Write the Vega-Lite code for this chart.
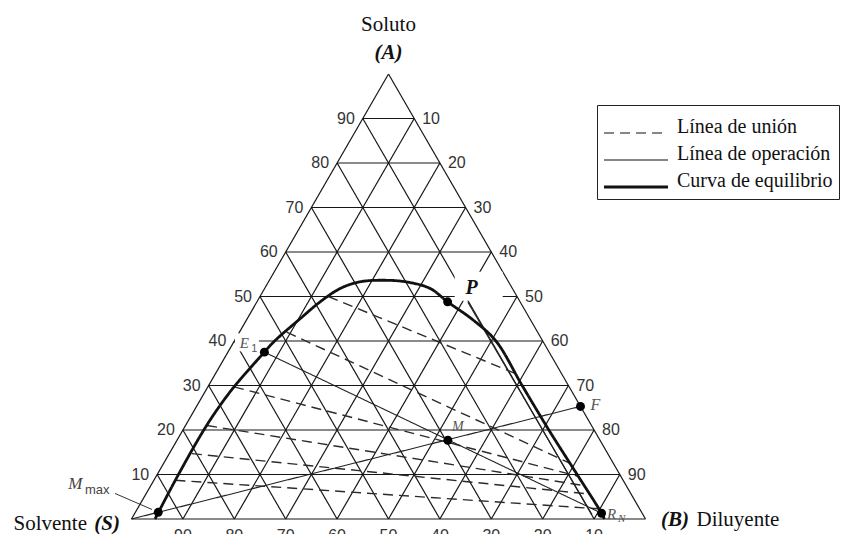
{
  "$schema": "https://vega.github.io/schema/vega-lite/v6.json",
  "background": "white",
  "width": 514,
  "height": 445,
  "autosize": {"type": "none"},
  "padding": {"left": 131.5, "top": 74, "right": 203.5, "bottom": 15},
  "config": {"view": {"stroke": null}},
  "datasets": {
    "rejilla": [
      {"A1": 0, "B1": 0, "A2": 0, "B2": 100},
      {"A1": 0, "B1": 0, "A2": 100, "B2": 0},
      {"A1": 0, "B1": 100, "A2": 100, "B2": 0},
      {"A1": 10, "B1": 0, "A2": 10, "B2": 90},
      {"A1": 20, "B1": 0, "A2": 20, "B2": 80},
      {"A1": 30, "B1": 0, "A2": 30, "B2": 70},
      {"A1": 40, "B1": 0, "A2": 40, "B2": 60},
      {"A1": 50, "B1": 0, "A2": 50, "B2": 50},
      {"A1": 60, "B1": 0, "A2": 60, "B2": 40},
      {"A1": 70, "B1": 0, "A2": 70, "B2": 30},
      {"A1": 80, "B1": 0, "A2": 80, "B2": 20},
      {"A1": 90, "B1": 0, "A2": 90, "B2": 10},
      {"A1": 0, "B1": 10, "A2": 90, "B2": 10},
      {"A1": 0, "B1": 20, "A2": 80, "B2": 20},
      {"A1": 0, "B1": 30, "A2": 70, "B2": 30},
      {"A1": 0, "B1": 40, "A2": 60, "B2": 40},
      {"A1": 0, "B1": 50, "A2": 50, "B2": 50},
      {"A1": 0, "B1": 60, "A2": 40, "B2": 60},
      {"A1": 0, "B1": 70, "A2": 30, "B2": 70},
      {"A1": 0, "B1": 80, "A2": 20, "B2": 80},
      {"A1": 0, "B1": 90, "A2": 10, "B2": 90},
      {"A1": 0, "B1": 90, "A2": 90, "B2": 0},
      {"A1": 0, "B1": 80, "A2": 80, "B2": 0},
      {"A1": 0, "B1": 70, "A2": 70, "B2": 0},
      {"A1": 0, "B1": 60, "A2": 60, "B2": 0},
      {"A1": 0, "B1": 50, "A2": 50, "B2": 0},
      {"A1": 0, "B1": 40, "A2": 40, "B2": 0},
      {"A1": 0, "B1": 30, "A2": 30, "B2": 0},
      {"A1": 0, "B1": 20, "A2": 20, "B2": 0},
      {"A1": 0, "B1": 10, "A2": 10, "B2": 0}
    ],
    "mascaras": [
      {"etiqueta": "P", "A": 52.3, "B": 41.4},
      {"etiqueta": "E1", "A": 39.7, "B": 2.6}
    ],
    "curva": [
      {"A": 0, "B": 4.57, "tipo": "Curva de equilibrio"},
      {"A": 9.4, "B": 4.15, "tipo": "Curva de equilibrio"},
      {"A": 19.7, "B": 4.06, "tipo": "Curva de equilibrio"},
      {"A": 24.9, "B": 4.4, "tipo": "Curva de equilibrio"},
      {"A": 29.7, "B": 5.1, "tipo": "Curva de equilibrio"},
      {"A": 37.5, "B": 7.1, "tipo": "Curva de equilibrio"},
      {"A": 39.9, "B": 7.8, "tipo": "Curva de equilibrio"},
      {"A": 45, "B": 10.3, "tipo": "Curva de equilibrio"},
      {"A": 48.8, "B": 12.3, "tipo": "Curva de equilibrio"},
      {"A": 51.8, "B": 14.7, "tipo": "Curva de equilibrio"},
      {"A": 53.3, "B": 17.8, "tipo": "Curva de equilibrio"},
      {"A": 53.65, "B": 22.2, "tipo": "Curva de equilibrio"},
      {"A": 53.27, "B": 26.9, "tipo": "Curva de equilibrio"},
      {"A": 51.8, "B": 32.2, "tipo": "Curva de equilibrio"},
      {"A": 48.8, "B": 37.1, "tipo": "Curva de equilibrio"},
      {"A": 44.66, "B": 44.2, "tipo": "Curva de equilibrio"},
      {"A": 40, "B": 50.9, "tipo": "Curva de equilibrio"},
      {"A": 30, "B": 61.0, "tipo": "Curva de equilibrio"},
      {"A": 20, "B": 71.2, "tipo": "Curva de equilibrio"},
      {"A": 10, "B": 81.7, "tipo": "Curva de equilibrio"},
      {"A": 1.3, "B": 90.8, "tipo": "Curva de equilibrio"},
      {"A": 0, "B": 92, "tipo": "Curva de equilibrio"}
    ],
    "union": [
      {"A1": 50, "B1": 13.3, "A2": 32.7, "B2": 58.3, "tipo": "Línea de unión"},
      {"A1": 42, "B1": 9.2, "A2": 12.5, "B2": 79.1, "tipo": "Línea de unión"},
      {"A1": 29.7, "B1": 5.1, "A2": 9.6, "B2": 82.1, "tipo": "Línea de unión"},
      {"A1": 21, "B1": 4.2, "A2": 7.5, "B2": 84.3, "tipo": "Línea de unión"},
      {"A1": 14.7, "B1": 4.4, "A2": 5.6, "B2": 86.2, "tipo": "Línea de unión"},
      {"A1": 8.7, "B1": 4.2, "A2": 2.3, "B2": 89.6, "tipo": "Línea de unión"}
    ],
    "operacion": [
      {"A1": 0, "B1": 0, "A2": 25.3, "B2": 74.7, "tipo": "Línea de operación"},
      {"A1": 37.5, "B1": 7.1, "A2": 1.3, "B2": 90.8, "tipo": "Línea de operación"},
      {"A1": 48.7, "B1": 41.1, "A2": 1.0, "B2": 89.1, "tipo": "Línea de operación"}
    ],
    "referencia": [
      {"A1": 5.74, "B1": -6.08, "A2": 2.14, "B2": 2.92}
    ],
    "puntos": [
      {"nombre": "Mmax", "A": 1.5, "B": 4.45},
      {"nombre": "E1", "A": 37.5, "B": 7.1},
      {"nombre": "P", "A": 48.8, "B": 37.1},
      {"nombre": "M", "A": 17.7, "B": 52.7},
      {"nombre": "F", "A": 25.3, "B": 74.7},
      {"nombre": "RN", "A": 1.3, "B": 90.8}
    ],
    "vertices": [
      {"v": "A", "A": 100, "B": 0},
      {"v": "S", "A": 0, "B": 0},
      {"v": "B", "A": 0, "B": 100}
    ],
    "escala_A": [
      {"A": 10, "B": 0, "valor": "10"}, {"A": 20, "B": 0, "valor": "20"},
      {"A": 30, "B": 0, "valor": "30"}, {"A": 40, "B": 0, "valor": "40"},
      {"A": 50, "B": 0, "valor": "50"}, {"A": 60, "B": 0, "valor": "60"},
      {"A": 70, "B": 0, "valor": "70"}, {"A": 80, "B": 0, "valor": "80"},
      {"A": 90, "B": 0, "valor": "90"}
    ],
    "escala_B": [
      {"A": 90, "B": 10, "valor": "10"}, {"A": 80, "B": 20, "valor": "20"},
      {"A": 70, "B": 30, "valor": "30"}, {"A": 60, "B": 40, "valor": "40"},
      {"A": 50, "B": 50, "valor": "50"}, {"A": 40, "B": 60, "valor": "60"},
      {"A": 30, "B": 70, "valor": "70"}, {"A": 20, "B": 80, "valor": "80"},
      {"A": 10, "B": 90, "valor": "90"}
    ],
    "escala_S": [
      {"A": 0, "B": 10, "valor": "90"}, {"A": 0, "B": 20, "valor": "80"},
      {"A": 0, "B": 30, "valor": "70"}, {"A": 0, "B": 40, "valor": "60"},
      {"A": 0, "B": 50, "valor": "50"}, {"A": 0, "B": 60, "valor": "40"},
      {"A": 0, "B": 70, "valor": "30"}, {"A": 0, "B": 80, "valor": "20"},
      {"A": 0, "B": 90, "valor": "10"}
    ]
  },
  "layer": [
    {
      "data": {"name": "rejilla"},
      "transform": [
        {"calculate": "datum.B1 + datum.A1 / 2", "as": "x1"},
        {"calculate": "datum.B2 + datum.A2 / 2", "as": "x2"}
      ],
      "mark": {"type": "rule", "color": "#161616", "strokeWidth": 1.2},
      "encoding": {
        "x": {"field": "x1", "type": "quantitative", "scale": {"domain": [0, 100], "nice": false, "zero": false}, "axis": null},
        "x2": {"field": "x2"},
        "y": {"field": "A1", "type": "quantitative", "scale": {"domain": [0, 100], "nice": false, "zero": false}, "axis": null},
        "y2": {"field": "A2"}
      }
    },
    {
      "data": {"name": "mascaras"},
      "transform": [
        {"calculate": "datum.B + datum.A / 2", "as": "x"},
        {"filter": "datum.etiqueta === 'P'"}
      ],
      "mark": {"type": "point", "shape": "M-1,-0.6H1V0.6H-1Z", "size": 2304, "filled": true, "color": "white", "opacity": 1},
      "encoding": {
        "x": {"field": "x", "type": "quantitative", "axis": null},
        "y": {"field": "A", "type": "quantitative", "axis": null}
      }
    },
    {
      "data": {"name": "mascaras"},
      "transform": [
        {"calculate": "datum.B + datum.A / 2", "as": "x"},
        {"filter": "datum.etiqueta === 'E1'"}
      ],
      "mark": {"type": "point", "shape": "M-1,-0.75H1V0.75H-1Z", "size": 576, "filled": true, "color": "white", "opacity": 1},
      "encoding": {
        "x": {"field": "x", "type": "quantitative", "axis": null},
        "y": {"field": "A", "type": "quantitative", "axis": null}
      }
    },
    {
      "data": {"name": "union"},
      "transform": [
        {"calculate": "datum.B1 + datum.A1 / 2", "as": "x1"},
        {"calculate": "datum.B2 + datum.A2 / 2", "as": "x2"}
      ],
      "mark": {"type": "rule", "color": "#2b2b2b", "strokeWidth": 1.4},
      "encoding": {
        "x": {"field": "x1", "type": "quantitative", "axis": null},
        "x2": {"field": "x2"},
        "y": {"field": "A1", "type": "quantitative", "axis": null},
        "y2": {"field": "A2"},
        "strokeDash": {
          "field": "tipo", "type": "nominal",
          "scale": {"domain": ["Línea de unión", "Línea de operación", "Curva de equilibrio"], "range": [[10, 6], [1, 0], [1, 0]]},
          "legend": {
            "title": "\u00a0", "titleFontSize": 4, "titlePadding": 8,
            "orient": "none", "legendX": 465.5, "legendY": 31,
            "padding": 6, "rowPadding": 7, "labelOffset": 31, "symbolOffset": 23,
            "labelFont": "Liberation Serif", "labelFontSize": 20, "labelColor": "#111111",
            "labelLimit": 300, "labelBaseline": "alphabetic",
            "symbolType": "stroke", "symbolSize": 4096, "symbolStrokeColor": "#111111",
            "strokeColor": "#222222", "fillColor": "white",
            "encode": {"symbols": {"update": {"strokeWidth": {"signal": "datum.value === 'Curva de equilibrio' ? 3 : 1.2"}}}}
          }
        }
      }
    },
    {
      "data": {"name": "operacion"},
      "transform": [
        {"calculate": "datum.B1 + datum.A1 / 2", "as": "x1"},
        {"calculate": "datum.B2 + datum.A2 / 2", "as": "x2"}
      ],
      "mark": {"type": "rule", "color": "#222222", "strokeWidth": 1.1},
      "encoding": {
        "x": {"field": "x1", "type": "quantitative", "axis": null},
        "x2": {"field": "x2"},
        "y": {"field": "A1", "type": "quantitative", "axis": null},
        "y2": {"field": "A2"},
        "strokeDash": {
          "field": "tipo", "type": "nominal",
          "scale": {"domain": ["Línea de unión", "Línea de operación", "Curva de equilibrio"], "range": [[10, 6], [1, 0], [1, 0]]}
        }
      }
    },
    {
      "data": {"name": "curva"},
      "transform": [{"calculate": "datum.B + datum.A / 2", "as": "x"}],
      "mark": {"type": "line", "interpolate": "catmull-rom", "color": "#111111", "strokeWidth": 2.8},
      "encoding": {
        "x": {"field": "x", "type": "quantitative", "axis": null},
        "y": {"field": "A", "type": "quantitative", "axis": null},
        "strokeDash": {
          "field": "tipo", "type": "nominal",
          "scale": {"domain": ["Línea de unión", "Línea de operación", "Curva de equilibrio"], "range": [[10, 6], [1, 0], [1, 0]]}
        }
      }
    },
    {
      "data": {"name": "referencia"},
      "transform": [
        {"calculate": "datum.B1 + datum.A1 / 2", "as": "x1"},
        {"calculate": "datum.B2 + datum.A2 / 2", "as": "x2"}
      ],
      "mark": {"type": "rule", "color": "#333333", "strokeWidth": 1},
      "encoding": {
        "x": {"field": "x1", "type": "quantitative", "axis": null},
        "x2": {"field": "x2"},
        "y": {"field": "A1", "type": "quantitative", "axis": null},
        "y2": {"field": "A2"}
      }
    },
    {
      "data": {"name": "puntos"},
      "transform": [{"calculate": "datum.B + datum.A / 2", "as": "x"}],
      "mark": {"type": "circle", "size": 80, "color": "#000000", "opacity": 1},
      "encoding": {
        "x": {"field": "x", "type": "quantitative", "axis": null},
        "y": {"field": "A", "type": "quantitative", "axis": null}
      }
    },
    {
      "data": {"name": "puntos"},
      "transform": [{"calculate": "datum.B + datum.A / 2", "as": "x"}, {"filter": "datum.nombre === 'P'"}],
      "mark": {"type": "text", "text": "P", "font": "Liberation Serif", "fontSize": 20, "fontStyle": "italic", "fontWeight": "bold", "color": "#111111", "dx": 24, "dy": -14, "baseline": "middle"},
      "encoding": {"x": {"field": "x", "type": "quantitative", "axis": null}, "y": {"field": "A", "type": "quantitative", "axis": null}}
    },
    {
      "data": {"name": "puntos"},
      "transform": [{"calculate": "datum.B + datum.A / 2", "as": "x"}, {"filter": "datum.nombre === 'M'"}],
      "mark": {"type": "text", "text": "M", "font": "Liberation Serif", "fontSize": 14, "fontStyle": "italic", "color": "#555555", "dx": 10, "dy": -13, "baseline": "middle"},
      "encoding": {"x": {"field": "x", "type": "quantitative", "axis": null}, "y": {"field": "A", "type": "quantitative", "axis": null}}
    },
    {
      "data": {"name": "puntos"},
      "transform": [{"calculate": "datum.B + datum.A / 2", "as": "x"}, {"filter": "datum.nombre === 'F'"}],
      "mark": {"type": "text", "text": "F", "font": "Liberation Serif", "fontSize": 16, "fontStyle": "italic", "color": "#555555", "dx": 15, "dy": -1, "baseline": "middle"},
      "encoding": {"x": {"field": "x", "type": "quantitative", "axis": null}, "y": {"field": "A", "type": "quantitative", "axis": null}}
    },
    {
      "data": {"name": "puntos"},
      "transform": [{"calculate": "datum.B + datum.A / 2", "as": "x"}, {"filter": "datum.nombre === 'E1'"}],
      "mark": {"type": "text", "text": "E", "font": "Liberation Serif", "fontSize": 15, "fontStyle": "italic", "color": "#555555", "dx": -20, "dy": -9, "baseline": "middle"},
      "encoding": {"x": {"field": "x", "type": "quantitative", "axis": null}, "y": {"field": "A", "type": "quantitative", "axis": null}}
    },
    {
      "data": {"name": "puntos"},
      "transform": [{"calculate": "datum.B + datum.A / 2", "as": "x"}, {"filter": "datum.nombre === 'E1'"}],
      "mark": {"type": "text", "text": "1", "font": "Liberation Sans", "fontSize": 11, "color": "#555555", "dx": -10, "dy": -3, "baseline": "middle"},
      "encoding": {"x": {"field": "x", "type": "quantitative", "axis": null}, "y": {"field": "A", "type": "quantitative", "axis": null}}
    },
    {
      "data": {"name": "puntos"},
      "transform": [{"calculate": "datum.B + datum.A / 2", "as": "x"}, {"filter": "datum.nombre === 'RN'"}],
      "mark": {"type": "text", "text": "R", "font": "Liberation Serif", "fontSize": 15, "fontStyle": "italic", "color": "#555555", "dx": 10, "dy": 1, "baseline": "middle"},
      "encoding": {"x": {"field": "x", "type": "quantitative", "axis": null}, "y": {"field": "A", "type": "quantitative", "axis": null}}
    },
    {
      "data": {"name": "puntos"},
      "transform": [{"calculate": "datum.B + datum.A / 2", "as": "x"}, {"filter": "datum.nombre === 'RN'"}],
      "mark": {"type": "text", "text": "N", "font": "Liberation Serif", "fontSize": 11, "fontStyle": "italic", "color": "#555555", "dx": 20, "dy": 6, "baseline": "middle"},
      "encoding": {"x": {"field": "x", "type": "quantitative", "axis": null}, "y": {"field": "A", "type": "quantitative", "axis": null}}
    },
    {
      "data": {"name": "puntos"},
      "transform": [{"calculate": "datum.B + datum.A / 2", "as": "x"}, {"filter": "datum.nombre === 'Mmax'"}],
      "mark": {"type": "text", "text": "M", "font": "Liberation Serif", "fontSize": 17, "fontStyle": "italic", "color": "#444444", "dx": -83, "dy": -28, "baseline": "middle"},
      "encoding": {"x": {"field": "x", "type": "quantitative", "axis": null}, "y": {"field": "A", "type": "quantitative", "axis": null}}
    },
    {
      "data": {"name": "puntos"},
      "transform": [{"calculate": "datum.B + datum.A / 2", "as": "x"}, {"filter": "datum.nombre === 'Mmax'"}],
      "mark": {"type": "text", "text": "max", "font": "Liberation Sans", "fontSize": 13, "color": "#444444", "dx": -61, "dy": -22, "baseline": "middle"},
      "encoding": {"x": {"field": "x", "type": "quantitative", "axis": null}, "y": {"field": "A", "type": "quantitative", "axis": null}}
    },
    {
      "data": {"name": "escala_A"},
      "transform": [{"calculate": "datum.B + datum.A / 2", "as": "x"}],
      "mark": {"type": "text", "font": "Liberation Sans", "fontSize": 16, "color": "#333333", "align": "right", "baseline": "middle", "dx": -8},
      "encoding": {"x": {"field": "x", "type": "quantitative", "axis": null}, "y": {"field": "A", "type": "quantitative", "axis": null}, "text": {"field": "valor"}}
    },
    {
      "data": {"name": "escala_B"},
      "transform": [{"calculate": "datum.B + datum.A / 2", "as": "x"}],
      "mark": {"type": "text", "font": "Liberation Sans", "fontSize": 16, "color": "#333333", "align": "left", "baseline": "middle", "dx": 8},
      "encoding": {"x": {"field": "x", "type": "quantitative", "axis": null}, "y": {"field": "A", "type": "quantitative", "axis": null}, "text": {"field": "valor"}}
    },
    {
      "data": {"name": "escala_S"},
      "transform": [{"calculate": "datum.B + datum.A / 2", "as": "x"}],
      "mark": {"type": "text", "font": "Liberation Sans", "fontSize": 16, "color": "#333333", "align": "center", "baseline": "top", "dy": 9},
      "encoding": {"x": {"field": "x", "type": "quantitative", "axis": null}, "y": {"field": "A", "type": "quantitative", "axis": null}, "text": {"field": "valor"}}
    },
    {
      "data": {"name": "vertices"},
      "transform": [{"calculate": "datum.B + datum.A / 2", "as": "x"}, {"filter": "datum.v === 'A'"}],
      "mark": {"type": "text", "text": "Soluto", "font": "Liberation Serif", "fontSize": 21, "color": "#111111", "align": "center", "baseline": "middle", "dy": -49},
      "encoding": {"x": {"field": "x", "type": "quantitative", "axis": null}, "y": {"field": "A", "type": "quantitative", "axis": null}}
    },
    {
      "data": {"name": "vertices"},
      "transform": [{"calculate": "datum.B + datum.A / 2", "as": "x"}, {"filter": "datum.v === 'A'"}],
      "mark": {"type": "text", "text": "(A)", "font": "Liberation Serif", "fontSize": 21, "fontStyle": "italic", "fontWeight": "bold", "color": "#111111", "align": "center", "baseline": "middle", "dy": -21},
      "encoding": {"x": {"field": "x", "type": "quantitative", "axis": null}, "y": {"field": "A", "type": "quantitative", "axis": null}}
    },
    {
      "data": {"name": "vertices"},
      "transform": [{"calculate": "datum.B + datum.A / 2", "as": "x"}, {"filter": "datum.v === 'S'"}],
      "mark": {"type": "text", "text": "(S)", "font": "Liberation Serif", "fontSize": 21, "fontStyle": "italic", "fontWeight": "bold", "color": "#111111", "align": "right", "baseline": "middle", "dx": -11.5, "dy": 4.5},
      "encoding": {"x": {"field": "x", "type": "quantitative", "axis": null}, "y": {"field": "A", "type": "quantitative", "axis": null}}
    },
    {
      "data": {"name": "vertices"},
      "transform": [{"calculate": "datum.B + datum.A / 2", "as": "x"}, {"filter": "datum.v === 'S'"}],
      "mark": {"type": "text", "text": "Solvente", "font": "Liberation Serif", "fontSize": 21, "color": "#111111", "align": "right", "baseline": "middle", "dx": -44.5, "dy": 4.5},
      "encoding": {"x": {"field": "x", "type": "quantitative", "axis": null}, "y": {"field": "A", "type": "quantitative", "axis": null}}
    },
    {
      "data": {"name": "vertices"},
      "transform": [{"calculate": "datum.B + datum.A / 2", "as": "x"}, {"filter": "datum.v === 'B'"}],
      "mark": {"type": "text", "text": "(B)", "font": "Liberation Serif", "fontSize": 21, "fontStyle": "italic", "fontWeight": "bold", "color": "#111111", "align": "left", "baseline": "middle", "dx": 15.5, "dy": 1},
      "encoding": {"x": {"field": "x", "type": "quantitative", "axis": null}, "y": {"field": "A", "type": "quantitative", "axis": null}}
    },
    {
      "data": {"name": "vertices"},
      "transform": [{"calculate": "datum.B + datum.A / 2", "as": "x"}, {"filter": "datum.v === 'B'"}],
      "mark": {"type": "text", "text": "Diluyente", "font": "Liberation Serif", "fontSize": 21, "color": "#111111", "align": "left", "baseline": "middle", "dx": 51, "dy": 1},
      "encoding": {"x": {"field": "x", "type": "quantitative", "axis": null}, "y": {"field": "A", "type": "quantitative", "axis": null}}
    }
  ]
}
